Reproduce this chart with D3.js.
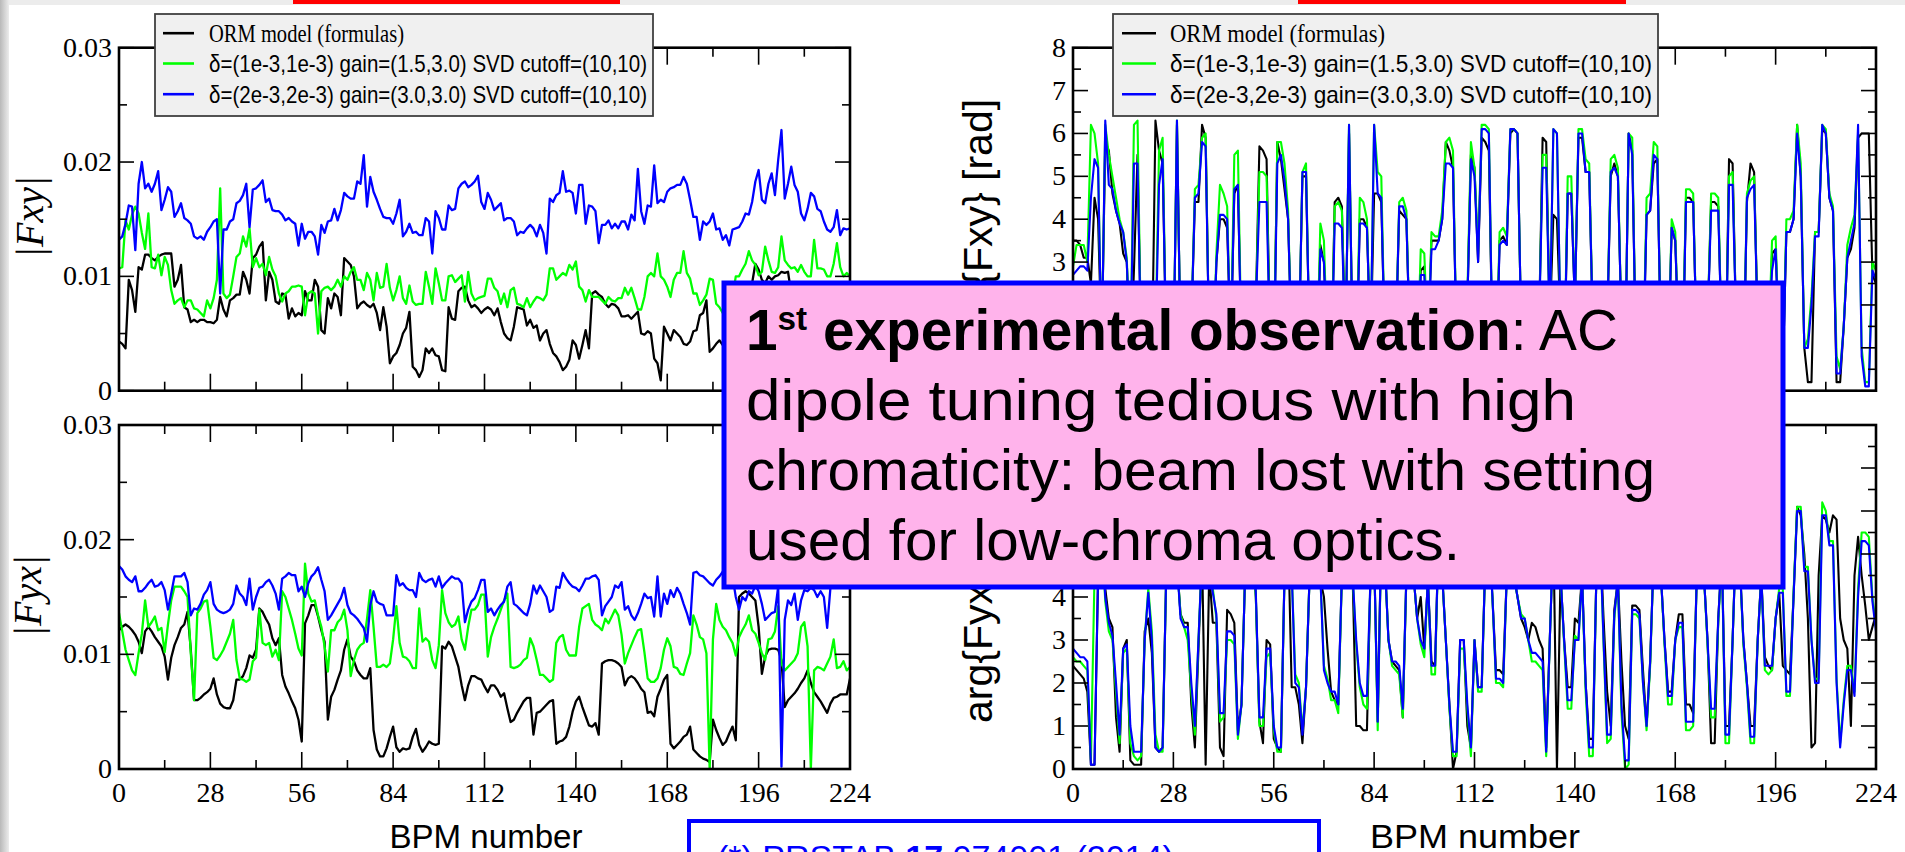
<!DOCTYPE html>
<html><head><meta charset="utf-8">
<script src="https://cdn.jsdelivr.net/npm/d3@7"></script>
<style>html,body{margin:0;padding:0;background:#fff;overflow:hidden}</style>
</head><body>
<svg id="c" width="1905" height="852"></svg>
<script>
// ---------------- DATA ----------------
const bpm = d3.range(0, 225);
const xTickValues = [0, 28, 56, 84, 112, 140, 168, 196, 224];
const xMinorTicks = [14, 42, 70, 98, 126, 154, 182, 210];
const fTickValues = [0, 0.01, 0.02, 0.03];
const fTickLabels = ["0", "0.01", "0.02", "0.03"];
const fMinorTicks = [0.005, 0.015, 0.025];
const phTickValues = [0, 1, 2, 3, 4, 5, 6, 7, 8];
const phTickLabels = ["0", "1", "2", "3", "4", "5", "6", "7", "8"];
const phMinorTicks = [0.5, 1.5, 2.5, 3.5, 4.5, 5.5, 6.5, 7.5];
const seriesNames = ["ORM model (formulas)", "δ=(1e-3,1e-3) gain=(1.5,3.0) SVD cutoff=(10,10)", "δ=(2e-3,2e-3) gain=(3.0,3.0) SVD cutoff=(10,10)"];
const seriesColors = ["#000000", "#00ff00", "#0000ff"];
const noteLines = ["dipole tuning tedious with high", "chromaticity: beam lost with setting", "used for low-chroma optics."];

// |Fxy|
const fxyORM = [0.0043,0.0041,0.0037,0.0097,0.0088,0.0069,0.0108,0.0106,0.0119,0.0119,
0.0116,0.0114,0.0117,0.0119,0.0120,0.0120,0.0120,0.0091,0.0097,0.0110,
0.0073,0.0071,0.0060,0.0062,0.0060,0.0062,0.0062,0.0060,0.0060,0.0059,
0.0062,0.0082,0.0071,0.0065,0.0079,0.0081,0.0084,0.0084,0.0104,0.0097,
0.0085,0.0116,0.0119,0.0126,0.0130,0.0079,0.0104,0.0097,0.0078,0.0076,
0.0085,0.0084,0.0063,0.0072,0.0065,0.0068,0.0066,0.0087,0.0079,0.0079,
0.0097,0.0091,0.0053,0.0050,0.0081,0.0072,0.0085,0.0082,0.0066,0.0116,
0.0113,0.0110,0.0100,0.0072,0.0076,0.0078,0.0075,0.0073,0.0076,0.0068,
0.0053,0.0073,0.0056,0.0024,0.0030,0.0033,0.0040,0.0050,0.0055,0.0069,
0.0021,0.0018,0.0012,0.0018,0.0037,0.0033,0.0037,0.0031,0.0030,0.0018,
0.0017,0.0073,0.0063,0.0062,0.0087,0.0090,0.0091,0.0079,0.0073,0.0075,
0.0072,0.0068,0.0071,0.0073,0.0071,0.0066,0.0072,0.0060,0.0050,0.0046,
0.0044,0.0056,0.0073,0.0072,0.0071,0.0057,0.0062,0.0055,0.0057,0.0044,
0.0050,0.0053,0.0041,0.0033,0.0030,0.0025,0.0018,0.0021,0.0027,0.0044,
0.0040,0.0028,0.0040,0.0053,0.0037,0.0085,0.0087,0.0084,0.0082,0.0076,
0.0073,0.0076,0.0075,0.0072,0.0065,0.0065,0.0066,0.0063,0.0066,0.0069,
0.0050,0.0049,0.0052,0.0050,0.0028,0.0024,0.0009,0.0056,0.0050,0.0044,
0.0053,0.0050,0.0047,0.0041,0.0040,0.0043,0.0052,0.0053,0.0066,0.0068,
0.0079,0.0034,0.0037,0.0041,0.0044,0.0040,0.0045,0.0050,0.0062,0.0070,
0.0065,0.0075,0.0080,0.0085,0.0094,0.0111,0.0106,0.0097,0.0094,0.0100,
0.0097,0.0100,0.0101,0.0104,0.0103,0.0104,0.0085,0.0078,0.0070,0.0065,
0.0060,0.0058,0.0065,0.0072,0.0068,0.0060,0.0055,0.0062,0.0070,0.0075,
0.0071,0.0066,0.0060,0.0064,0.0068];
const fxyD1 = [0.0107,0.0108,0.0149,0.0141,0.0154,0.0161,0.0155,0.0138,0.0124,0.0155,
0.0108,0.0107,0.0119,0.0101,0.0117,0.0110,0.0088,0.0076,0.0079,0.0081,
0.0073,0.0079,0.0079,0.0072,0.0071,0.0068,0.0065,0.0079,0.0072,0.0081,
0.0097,0.0177,0.0085,0.0081,0.0084,0.0100,0.0117,0.0120,0.0135,0.0126,
0.0142,0.0108,0.0116,0.0108,0.0111,0.0101,0.0117,0.0106,0.0100,0.0085,
0.0078,0.0085,0.0087,0.0091,0.0091,0.0092,0.0091,0.0066,0.0085,0.0087,
0.0085,0.0050,0.0087,0.0090,0.0091,0.0088,0.0091,0.0097,0.0091,0.0100,
0.0097,0.0104,0.0108,0.0097,0.0097,0.0088,0.0103,0.0097,0.0079,0.0103,
0.0090,0.0091,0.0111,0.0090,0.0079,0.0088,0.0100,0.0081,0.0076,0.0092,
0.0078,0.0075,0.0076,0.0076,0.0104,0.0091,0.0076,0.0107,0.0094,0.0079,
0.0079,0.0100,0.0101,0.0095,0.0098,0.0101,0.0078,0.0104,0.0085,0.0079,
0.0081,0.0082,0.0083,0.0098,0.0098,0.0090,0.0087,0.0076,0.0085,0.0073,
0.0088,0.0090,0.0076,0.0075,0.0073,0.0081,0.0073,0.0078,0.0082,0.0081,
0.0079,0.0084,0.0107,0.0107,0.0097,0.0100,0.0103,0.0101,0.0110,0.0106,
0.0113,0.0091,0.0088,0.0078,0.0088,0.0082,0.0082,0.0082,0.0079,0.0076,
0.0082,0.0079,0.0078,0.0081,0.0081,0.0090,0.0084,0.0090,0.0081,0.0071,
0.0071,0.0082,0.0100,0.0103,0.0100,0.0120,0.0100,0.0097,0.0091,0.0082,
0.0097,0.0103,0.0103,0.0122,0.0103,0.0098,0.0085,0.0085,0.0075,0.0079,
0.0084,0.0098,0.0097,0.0076,0.0073,0.0068,0.0070,0.0075,0.0082,0.0100,
0.0100,0.0106,0.0111,0.0122,0.0114,0.0110,0.0101,0.0104,0.0126,0.0114,
0.0104,0.0103,0.0108,0.0135,0.0114,0.0110,0.0107,0.0108,0.0104,0.0110,
0.0104,0.0100,0.0100,0.0132,0.0107,0.0107,0.0106,0.0100,0.0100,0.0111,
0.0129,0.0108,0.0100,0.0103,0.0100];
const fxyD2 = [0.0132,0.0135,0.0146,0.0162,0.0161,0.0123,0.0181,0.0200,0.0177,0.0181,
0.0174,0.0181,0.0192,0.0158,0.0167,0.0178,0.0174,0.0152,0.0157,0.0164,
0.0151,0.0149,0.0146,0.0135,0.0133,0.0135,0.0132,0.0139,0.0143,0.0148,
0.0150,0.0085,0.0141,0.0141,0.0148,0.0150,0.0164,0.0166,0.0171,0.0181,
0.0143,0.0176,0.0177,0.0180,0.0184,0.0165,0.0168,0.0158,0.0157,0.0157,
0.0154,0.0149,0.0151,0.0148,0.0146,0.0127,0.0146,0.0133,0.0139,0.0139,
0.0135,0.0119,0.0145,0.0138,0.0148,0.0149,0.0159,0.0149,0.0158,0.0173,
0.0170,0.0168,0.0168,0.0183,0.0181,0.0206,0.0161,0.0187,0.0174,0.0167,
0.0159,0.0152,0.0151,0.0151,0.0146,0.0155,0.0167,0.0135,0.0139,0.0146,
0.0138,0.0139,0.0136,0.0136,0.0151,0.0148,0.0120,0.0157,0.0151,0.0141,
0.0141,0.0162,0.0158,0.0159,0.0177,0.0181,0.0183,0.0178,0.0180,0.0183,
0.0188,0.0165,0.0159,0.0173,0.0167,0.0158,0.0161,0.0164,0.0149,0.0151,
0.0151,0.0148,0.0136,0.0139,0.0138,0.0142,0.0145,0.0142,0.0135,0.0145,
0.0138,0.0120,0.0168,0.0165,0.0171,0.0173,0.0192,0.0174,0.0175,0.0173,
0.0155,0.0180,0.0180,0.0146,0.0162,0.0161,0.0157,0.0129,0.0145,0.0145,
0.0149,0.0142,0.0146,0.0142,0.0148,0.0148,0.0141,0.0154,0.0149,0.0194,
0.0157,0.0146,0.0162,0.0161,0.0197,0.0164,0.0167,0.0165,0.0174,0.0177,
0.0178,0.0180,0.0180,0.0187,0.0181,0.0167,0.0152,0.0152,0.0132,0.0148,
0.0145,0.0148,0.0155,0.0141,0.0142,0.0132,0.0136,0.0127,0.0141,0.0142,
0.0143,0.0148,0.0155,0.0154,0.0165,0.0183,0.0193,0.0167,0.0164,0.0181,
0.0190,0.0171,0.0202,0.0228,0.0168,0.0181,0.0196,0.0180,0.0174,0.0155,
0.0149,0.0159,0.0173,0.0170,0.0159,0.0157,0.0148,0.0141,0.0139,0.0143,
0.0158,0.0136,0.0142,0.0141,0.0142];

// |Fyx|
const fyxORM = [0.0121,0.0124,0.0126,0.0124,0.0121,0.0117,0.0111,0.0101,0.0120,0.0124,
0.0120,0.0115,0.0111,0.0107,0.0098,0.0078,0.0097,0.0108,0.0115,0.0123,
0.0126,0.0137,0.0104,0.0060,0.0060,0.0062,0.0065,0.0067,0.0070,0.0079,
0.0065,0.0057,0.0054,0.0053,0.0053,0.0060,0.0078,0.0078,0.0081,0.0088,
0.0099,0.0097,0.0104,0.0140,0.0137,0.0131,0.0126,0.0114,0.0108,0.0114,
0.0082,0.0072,0.0066,0.0059,0.0053,0.0043,0.0024,0.0127,0.0134,0.0143,
0.0143,0.0133,0.0121,0.0111,0.0043,0.0063,0.0069,0.0078,0.0086,0.0104,
0.0113,0.0098,0.0094,0.0086,0.0082,0.0079,0.0079,0.0088,0.0034,0.0017,
0.0011,0.0011,0.0018,0.0028,0.0037,0.0019,0.0015,0.0018,0.0017,0.0018,
0.0028,0.0035,0.0021,0.0015,0.0019,0.0024,0.0022,0.0021,0.0022,0.0107,
0.0105,0.0111,0.0107,0.0098,0.0089,0.0073,0.0060,0.0073,0.0081,0.0081,
0.0079,0.0078,0.0072,0.0067,0.0073,0.0073,0.0069,0.0063,0.0066,0.0053,
0.0041,0.0043,0.0049,0.0054,0.0059,0.0062,0.0062,0.0030,0.0049,0.0050,
0.0053,0.0056,0.0059,0.0060,0.0022,0.0024,0.0025,0.0028,0.0037,0.0050,
0.0059,0.0063,0.0054,0.0046,0.0038,0.0037,0.0040,0.0030,0.0092,0.0094,
0.0095,0.0095,0.0094,0.0092,0.0089,0.0073,0.0079,0.0081,0.0079,0.0075,
0.0070,0.0067,0.0049,0.0050,0.0046,0.0063,0.0070,0.0078,0.0082,0.0022,
0.0018,0.0021,0.0024,0.0028,0.0030,0.0037,0.0017,0.0014,0.0011,0.0009,
0.0008,0.0006,0.0043,0.0034,0.0027,0.0021,0.0024,0.0031,0.0037,0.0025,
0.0150,0.0153,0.0155,0.0153,0.0150,0.0147,0.0124,0.0083,0.0098,0.0104,
0.0105,0.0105,0.0104,0.0095,0.0054,0.0060,0.0063,0.0066,0.0070,0.0075,
0.0079,0.0086,0.0075,0.0067,0.0063,0.0059,0.0054,0.0049,0.0057,0.0062,
0.0063,0.0065,0.0065,0.0065,0.0079];
const fyxD1 = [0.0136,0.0120,0.0104,0.0095,0.0086,0.0082,0.0101,0.0118,0.0147,0.0124,
0.0128,0.0133,0.0121,0.0123,0.0102,0.0126,0.0147,0.0159,0.0159,0.0159,
0.0155,0.0150,0.0101,0.0060,0.0136,0.0140,0.0146,0.0147,0.0124,0.0097,
0.0095,0.0099,0.0104,0.0111,0.0118,0.0130,0.0095,0.0079,0.0078,0.0076,
0.0078,0.0094,0.0097,0.0139,0.0110,0.0108,0.0110,0.0098,0.0104,0.0095,
0.0155,0.0150,0.0140,0.0130,0.0118,0.0105,0.0099,0.0179,0.0153,0.0146,
0.0147,0.0134,0.0124,0.0107,0.0085,0.0121,0.0121,0.0128,0.0131,0.0139,
0.0121,0.0081,0.0095,0.0104,0.0108,0.0110,0.0131,0.0156,0.0124,0.0089,
0.0089,0.0091,0.0089,0.0092,0.0113,0.0142,0.0110,0.0098,0.0097,0.0094,
0.0088,0.0088,0.0140,0.0111,0.0114,0.0111,0.0095,0.0088,0.0108,0.0156,
0.0136,0.0128,0.0124,0.0126,0.0133,0.0113,0.0104,0.0124,0.0139,0.0139,
0.0143,0.0152,0.0152,0.0098,0.0115,0.0124,0.0131,0.0139,0.0147,0.0153,
0.0089,0.0088,0.0089,0.0091,0.0095,0.0097,0.0114,0.0107,0.0095,0.0082,
0.0082,0.0079,0.0076,0.0078,0.0110,0.0115,0.0117,0.0104,0.0099,0.0099,
0.0099,0.0124,0.0140,0.0142,0.0144,0.0130,0.0126,0.0124,0.0121,0.0131,
0.0127,0.0133,0.0139,0.0134,0.0117,0.0092,0.0101,0.0108,0.0115,0.0121,
0.0122,0.0102,0.0079,0.0076,0.0076,0.0079,0.0088,0.0104,0.0114,0.0107,
0.0089,0.0088,0.0083,0.0082,0.0092,0.0101,0.0134,0.0126,0.0115,0.0113,
0.0101,0.0000,0.0113,0.0144,0.0130,0.0124,0.0121,0.0115,0.0110,0.0099,
0.0115,0.0121,0.0126,0.0134,0.0121,0.0118,0.0110,0.0101,0.0095,0.0113,
0.0114,0.0120,0.0142,0.0092,0.0086,0.0089,0.0092,0.0095,0.0101,0.0124,
0.0128,0.0107,0.0000,0.0086,0.0089,0.0088,0.0086,0.0092,0.0098,0.0113,
0.0088,0.0089,0.0094,0.0086,0.0089];
const fyxD2 = [0.0177,0.0174,0.0168,0.0165,0.0163,0.0168,0.0155,0.0155,0.0158,0.0162,
0.0165,0.0159,0.0160,0.0163,0.0156,0.0139,0.0153,0.0168,0.0168,0.0168,
0.0171,0.0163,0.0134,0.0140,0.0139,0.0144,0.0152,0.0156,0.0163,0.0144,
0.0139,0.0137,0.0136,0.0137,0.0139,0.0144,0.0160,0.0153,0.0150,0.0143,
0.0166,0.0139,0.0150,0.0158,0.0159,0.0163,0.0165,0.0160,0.0153,0.0139,
0.0166,0.0168,0.0171,0.0169,0.0169,0.0155,0.0159,0.0150,0.0162,0.0168,
0.0171,0.0176,0.0165,0.0155,0.0130,0.0134,0.0139,0.0144,0.0149,0.0158,
0.0143,0.0136,0.0134,0.0131,0.0127,0.0123,0.0111,0.0143,0.0155,0.0146,
0.0144,0.0143,0.0134,0.0134,0.0134,0.0169,0.0160,0.0162,0.0158,0.0156,
0.0156,0.0150,0.0171,0.0165,0.0163,0.0165,0.0166,0.0159,0.0168,0.0158,
0.0162,0.0165,0.0168,0.0166,0.0166,0.0162,0.0128,0.0139,0.0146,0.0149,
0.0156,0.0165,0.0165,0.0137,0.0140,0.0134,0.0139,0.0143,0.0146,0.0159,
0.0163,0.0144,0.0142,0.0139,0.0136,0.0134,0.0144,0.0160,0.0153,0.0160,
0.0155,0.0150,0.0137,0.0139,0.0159,0.0158,0.0171,0.0166,0.0162,0.0159,
0.0158,0.0155,0.0160,0.0166,0.0166,0.0168,0.0169,0.0165,0.0134,0.0142,
0.0146,0.0150,0.0160,0.0158,0.0163,0.0139,0.0142,0.0134,0.0130,0.0136,
0.0144,0.0153,0.0149,0.0150,0.0133,0.0168,0.0133,0.0153,0.0144,0.0156,
0.0150,0.0158,0.0153,0.0144,0.0136,0.0126,0.0171,0.0172,0.0169,0.0168,
0.0165,0.0162,0.0160,0.0165,0.0168,0.0172,0.0168,0.0165,0.0168,0.0150,
0.0139,0.0150,0.0147,0.0155,0.0153,0.0160,0.0155,0.0144,0.0130,0.0133,
0.0136,0.0137,0.0159,0.0002,0.0130,0.0147,0.0143,0.0153,0.0130,0.0147,
0.0156,0.0155,0.0158,0.0156,0.0150,0.0155,0.0150,0.0123,0.0158,0.0162,
0.0165,0.0168,0.0164,0.0166,0.0170];

// arg{Fxy} [rad]
const argFxyORM = [3.5,3.5,3.4,3.1,3.1,2.5,4.5,4.0,1.0,5.8,
5.6,4.6,4.2,3.9,3.2,3.0,0.5,2.8,5.5,1.0,
0.3,0.5,0.5,6.3,5.6,5.3,1.0,0.3,0.5,6.2,
1.0,0.3,0.3,1.5,4.4,4.4,6.2,5.9,1.0,0.4,
3.0,4.0,4.0,3.8,1.0,4.6,4.8,1.0,0.3,0.3,
0.5,2.0,5.7,5.6,5.4,1.0,0.5,5.8,5.4,4.7,
4.0,1.0,0.3,1.0,5.0,5.0,1.0,0.3,0.5,3.4,
3.0,0.8,0.3,4.4,4.5,4.3,1.0,6.0,1.0,0.4,
4.0,4.0,3.8,1.0,4.6,4.6,4.4,1.0,0.4,0.3,
1.0,4.2,4.1,4.0,1.0,0.3,0.5,2.8,2.9,1.0,
3.5,3.5,3.5,4.0,5.8,5.6,5.2,1.0,0.4,0.3,
2.0,5.5,5.2,3.0,5.9,5.8,5.6,1.0,0.3,3.5,
3.6,3.4,6.0,6.1,6.0,1.5,0.3,0.2,0.4,0.8,
1.5,5.9,5.8,1.5,4.1,4.0,1.5,0.4,4.6,4.6,
2.0,5.9,5.9,5.1,5.1,1.5,0.4,0.3,0.6,1.5,
5.0,5.3,5.0,1.5,0.4,6.0,5.6,1.0,0.3,0.5,
4.1,4.2,5.3,5.4,1.0,0.3,0.5,3.8,3.5,1.0,
0.4,4.5,4.5,4.4,1.0,0.3,0.5,1.5,4.4,4.4,
4.3,1.0,0.4,5.4,5.3,1.5,0.4,0.3,4.4,5.3,
5.1,1.5,0.4,0.3,1.0,3.2,3.3,1.0,0.4,3.7,
3.7,4.0,6.2,5.0,1.0,0.2,0.2,3.7,3.7,6.1,
6.0,4.5,4.2,0.2,0.2,1.5,3.1,3.3,3.8,5.9,
6.0,6.0,6.0,2.7,2.5];
const argFxyD1 = [2.9,3.4,3.4,3.4,3.0,6.2,6.0,5.3,0.8,6.2,
5.5,5.0,4.5,4.0,3.7,3.1,0.8,6.2,6.3,1.0,
0.3,0.3,0.5,1.2,5.6,5.9,1.0,0.3,0.5,6.3,
1.0,0.3,0.3,1.5,4.7,4.8,5.9,6.0,1.0,0.4,
3.2,4.8,4.6,4.3,1.0,5.5,5.6,1.0,0.3,0.3,
0.5,2.0,5.1,5.1,5.0,1.0,0.5,5.8,5.8,5.3,
4.2,1.0,0.3,1.0,5.1,5.3,1.0,0.3,0.5,3.9,
3.5,0.8,0.3,4.3,4.4,4.2,1.0,6.2,1.0,0.4,
4.5,4.4,4.0,1.0,6.2,5.1,5.0,1.0,0.4,0.3,
1.0,4.4,4.5,4.2,1.0,0.3,0.5,3.3,3.2,1.0,
3.7,3.6,3.6,4.2,5.8,5.9,5.6,1.0,0.4,0.3,
2.2,5.8,5.2,3.2,6.2,6.2,6.1,1.0,0.3,3.7,
3.8,3.6,6.1,6.1,6.0,1.5,0.3,0.2,0.4,0.8,
1.5,5.5,5.5,1.5,6.1,6.0,1.5,0.4,5.0,5.0,
2.0,6.1,6.1,5.4,5.3,1.5,0.4,0.3,0.6,1.5,
5.4,5.5,5.2,1.5,0.4,6.0,5.9,1.0,0.3,0.5,
4.5,4.6,5.8,5.7,1.0,0.3,0.5,4.0,3.7,1.0,
0.4,4.7,4.7,4.6,1.0,0.3,0.5,1.5,4.6,4.6,
4.5,1.0,0.4,5.0,5.1,1.5,0.4,0.3,4.6,4.9,
5.0,1.5,0.4,0.3,1.0,3.5,3.6,1.0,0.4,4.0,
4.0,4.2,6.2,5.3,1.0,1.2,2.2,3.7,3.7,6.2,
6.1,4.6,4.3,0.8,0.5,1.5,3.4,3.8,4.1,6.0,
1.0,0.2,0.2,3.0,2.8];
const argFxyD2 = [2.7,2.8,2.9,2.9,2.8,4.5,5.4,5.2,0.8,6.3,
4.8,4.7,4.2,3.9,3.7,3.0,0.8,5.3,5.3,1.0,
0.3,0.3,0.5,1.0,4.8,5.4,1.0,0.3,0.5,6.3,
1.0,0.3,0.3,1.5,4.5,4.6,5.8,5.7,1.0,0.4,
3.0,4.1,4.1,4.0,1.0,4.7,4.8,1.0,0.3,0.3,
0.5,2.0,4.4,4.4,4.4,1.0,0.5,5.3,5.5,4.9,
4.0,1.0,0.3,1.0,5.1,5.1,1.0,0.3,0.5,3.3,
3.0,0.8,0.3,3.9,3.9,3.8,1.0,6.2,1.0,0.4,
3.9,3.9,3.8,1.0,6.2,4.6,4.5,1.0,0.4,0.3,
1.0,4.3,4.3,4.0,1.0,0.3,0.5,2.7,2.7,1.0,
3.3,3.3,3.5,4.0,5.3,5.3,5.2,1.0,0.4,0.3,
2.0,5.4,5.0,3.0,6.1,6.1,6.0,1.0,0.3,3.4,
3.5,3.4,6.1,6.1,6.0,1.5,0.3,0.2,0.4,0.8,
1.5,5.2,5.2,1.5,6.1,6.0,1.5,0.4,4.6,4.6,
2.0,6.0,6.0,5.1,5.1,1.5,0.4,0.3,0.6,1.5,
5.1,5.2,5.0,1.5,0.4,6.0,5.5,1.0,0.3,0.5,
4.1,4.2,5.5,5.4,1.0,0.3,0.5,3.8,3.5,1.0,
0.4,4.4,4.4,4.4,1.0,0.3,0.5,1.5,4.2,4.2,
4.2,1.0,0.4,4.8,4.8,1.5,0.4,0.3,4.5,4.7,
4.8,1.5,0.4,0.3,1.0,2.8,3.3,1.0,0.4,3.7,
3.7,4.0,6.0,5.0,1.0,1.0,2.0,3.6,3.6,6.2,
6.0,4.5,4.2,0.4,0.4,1.5,3.1,3.5,3.9,6.2,
0.8,0.1,0.1,2.8,2.6];

// arg{Fyx} [rad]
const argFyxORM = [2.4,2.3,2.2,2.1,1.8,0.1,0.1,4.5,5.5,4.2,
3.5,3.3,1.2,0.4,2.8,3.0,0.2,0.1,0.1,0.1,
3.2,3.5,2.7,0.5,0.4,0.5,4.5,4.6,4.4,4.8,
3.6,3.4,3.4,1.5,0.5,2.8,5.0,0.1,4.6,3.4,
3.4,0.5,0.3,3.7,3.6,3.4,0.9,1.5,4.5,5.0,
5.5,4.0,1.1,0.6,3.0,2.9,0.7,0.5,0.4,4.5,
5.5,1.9,1.9,1.5,0.6,1.9,4.5,5.5,5.0,4.4,
4.0,2.8,1.8,1.6,1.5,4.5,5.5,5.0,4.5,1.0,
1.0,0.9,0.9,4.5,5.0,1.1,5.5,4.8,3.0,2.5,
2.4,2.3,1.2,4.5,5.5,4.5,3.5,4.0,2.8,4.4,
2.5,2.4,5.5,4.5,3.0,1.5,0.0,0.4,3.0,3.0,
1.0,0.5,3.0,1.9,1.9,4.8,5.5,4.0,2.3,2.3,
2.2,4.5,5.5,4.5,4.0,3.5,3.3,3.0,3.4,3.3,
3.0,2.8,0.5,3.0,5.5,0.0,4.5,3.0,1.9,1.9,
3.5,3.4,4.5,2.0,0.7,0.7,4.5,5.5,3.5,1.8,
1.0,3.7,4.4,2.5,1.0,0.7,3.8,3.8,3.7,2.3,
1.0,2.5,5.0,5.5,4.5,3.0,1.8,1.8,3.0,3.6,
3.6,1.5,1.5,1.3,4.5,5.5,4.5,3.0,0.6,0.6,
3.5,5.0,1.0,1.0,3.0,5.5,4.8,3.0,2.0,1.0,
1.0,3.0,4.5,2.6,2.4,2.3,3.5,4.1,2.4,2.3,
2.2,4.0,6.1,5.9,5.0,3.5,0.5,0.6,4.5,5.9,
5.8,5.5,5.9,5.8,3.5,3.0,2.8,1.0,4.5,5.4,
4.5,3.8,3.0,3.3,3.6];
const argFyxD1 = [2.6,2.5,2.5,2.4,2.3,0.2,4.5,5.0,5.5,3.9,
3.2,3.0,1.8,0.6,2.7,2.8,0.6,0.3,0.2,0.3,
3.0,4.2,3.2,0.8,0.4,0.4,4.5,4.7,4.5,4.8,
3.6,3.3,3.0,1.8,0.8,3.0,5.0,5.5,4.6,4.2,
3.5,1.1,1.2,3.0,3.0,2.9,0.7,1.5,4.5,5.0,
5.5,4.0,1.0,1.0,2.6,2.7,0.9,0.4,0.4,4.5,
5.5,4.6,2.2,2.0,0.9,1.9,4.5,5.5,5.0,4.5,
2.4,2.1,1.6,1.6,1.3,4.5,5.5,5.0,4.5,2.9,
1.9,1.5,1.4,4.5,5.0,0.9,5.5,4.8,3.0,2.4,
2.3,2.2,1.2,4.5,5.5,4.5,3.5,2.9,2.6,4.4,
2.2,2.2,5.5,4.5,3.0,1.4,0.3,0.3,2.8,2.8,
1.4,0.3,3.0,1.8,1.8,4.8,5.5,4.0,2.0,2.0,
1.9,4.5,5.5,4.5,4.0,3.6,3.5,3.0,2.5,2.5,
2.4,2.3,0.3,3.0,5.5,5.0,4.5,2.9,1.4,1.4,
3.1,3.0,4.5,1.8,0.3,0.3,4.5,5.5,2.9,0.6,
0.7,3.5,4.4,1.3,0.0,0.1,3.6,3.6,3.5,2.0,
0.9,2.4,5.0,5.5,4.5,2.9,1.5,1.5,3.0,3.3,
3.3,0.9,0.9,1.0,4.5,5.5,4.5,2.9,1.2,1.2,
3.4,5.0,0.6,0.6,3.0,5.5,4.8,2.9,1.9,0.6,
0.6,3.0,4.5,2.3,2.2,2.3,3.5,4.2,4.2,1.7,
1.7,4.1,6.1,6.1,4.7,4.7,3.0,2.1,2.1,6.2,
6.0,5.3,5.3,2.1,0.6,1.6,2.4,2.4,1.8,4.2,
5.5,5.5,5.4,4.0,3.3];
const argFyxD2 = [2.8,2.7,2.6,2.6,2.5,0.1,0.1,4.5,5.5,4.0,
3.4,3.1,2.0,0.8,2.8,2.9,1.0,0.4,0.4,0.4,
3.0,4.1,3.0,0.5,0.4,0.5,4.5,4.6,4.4,4.8,
3.5,3.3,3.3,2.0,1.0,3.0,5.0,5.5,4.6,4.1,
3.6,1.3,1.3,3.2,3.2,3.1,0.8,1.5,4.5,5.0,
5.5,4.1,1.2,1.2,2.8,2.8,1.0,0.5,0.5,4.5,
5.5,4.6,2.0,1.9,0.8,1.9,4.5,5.5,5.0,4.5,
2.3,2.0,1.8,1.8,1.5,4.5,5.5,5.0,4.5,3.0,
2.0,1.7,1.7,4.5,5.0,1.1,5.5,4.8,3.0,2.5,
2.5,2.4,1.4,4.5,5.5,4.5,3.5,3.0,2.8,4.4,
2.4,2.4,5.5,4.5,3.0,1.5,0.4,0.4,3.0,3.0,
1.5,0.5,3.0,1.9,1.9,4.8,5.5,4.0,2.1,2.1,
2.0,4.5,5.5,4.5,4.0,3.5,3.5,3.0,2.7,2.7,
2.6,2.5,0.4,3.0,5.5,5.0,4.5,3.0,1.6,1.6,
3.0,3.0,4.5,2.0,0.5,0.5,4.5,5.5,3.0,0.8,
0.8,3.6,4.4,1.5,0.2,0.2,3.7,3.7,3.6,2.0,
1.0,2.5,5.0,5.5,4.5,3.0,1.7,1.7,3.0,3.4,
3.4,1.1,1.1,1.1,4.5,5.5,4.5,3.0,1.4,1.4,
3.5,5.0,0.8,0.8,3.0,5.5,4.8,3.0,2.0,0.75,
0.75,3.0,4.5,2.4,2.4,2.4,3.5,4.1,4.1,1.8,
1.8,4.0,6.0,6.0,4.6,4.6,3.0,2.0,2.0,5.9,
5.9,5.2,5.2,2.0,0.5,1.5,2.3,2.3,1.7,4.0,
5.3,5.3,5.2,3.9,3.2];

// ---------------- DRAWING ----------------
const svg = d3.select("#c");
const defs = svg.append("defs");
const g0 = defs.append("linearGradient").attr("id","lg").attr("x1","0").attr("x2","1").attr("y1","0").attr("y2","0");
g0.append("stop").attr("offset","0").attr("stop-color","#b9b9b9");
g0.append("stop").attr("offset","1").attr("stop-color","#ececec");

svg.append("rect").attr("x",0).attr("y",0).attr("width",1905).attr("height",852).attr("fill","#ffffff");
svg.append("rect").attr("x",0).attr("y",0).attr("width",1905).attr("height",5).attr("fill","#ececec");
svg.append("rect").attr("x",0).attr("y",0).attr("width",9).attr("height",852).attr("fill","url(#lg)");
svg.append("rect").attr("x",293).attr("y",0).attr("width",327).attr("height",4).attr("fill","#ff0000");
svg.append("rect").attr("x",1298).attr("y",0).attr("width",328).attr("height",4).attr("fill","#ff0000");

const serif = "'Liberation Serif','Times New Roman',serif";
const sans = "'Liberation Sans',Arial,sans-serif";

function panel(id, box, yDomain, yMajor, yLabels, yMinor, series, showX) {
  const x = d3.scaleLinear().domain([0, 224]).range([box.x0, box.x1]);
  const y = d3.scaleLinear().domain(yDomain).range([box.y1, box.y0]);
  const g = svg.append("g");
  defs.append("clipPath").attr("id", "clip" + id).append("rect")
    .attr("x", box.x0).attr("y", box.y0 - 30).attr("width", box.x1 - box.x0).attr("height", box.y1 - box.y0 + 30);
  const line = d3.line().x((d, i) => x(bpm[i])).y(d => y(d));
  const lg = g.append("g").attr("clip-path", "url(#clip" + id + ")");
  series.forEach((s, k) => {
    lg.append("path").datum(s).attr("d", line).attr("fill", "none")
      .attr("stroke", seriesColors[k]).attr("stroke-width", box.lw).attr("stroke-linejoin", "round");
  });
  g.append("rect").attr("x", box.x0).attr("y", box.y0).attr("width", box.x1 - box.x0).attr("height", box.y1 - box.y0)
    .attr("fill", "none").attr("stroke", "#000").attr("stroke-width", 2.6);
  const tk = g.append("g").attr("stroke", "#000").attr("stroke-width", 1.6);
  xTickValues.forEach(v => {
    tk.append("line").attr("x1", x(v)).attr("x2", x(v)).attr("y1", box.y1).attr("y2", box.y1 - 17);
    tk.append("line").attr("x1", x(v)).attr("x2", x(v)).attr("y1", box.y0).attr("y2", box.y0 + 17);
  });
  xMinorTicks.forEach(v => {
    tk.append("line").attr("x1", x(v)).attr("x2", x(v)).attr("y1", box.y1).attr("y2", box.y1 - 9);
    tk.append("line").attr("x1", x(v)).attr("x2", x(v)).attr("y1", box.y0).attr("y2", box.y0 + 9);
  });
  yMajor.forEach(v => {
    tk.append("line").attr("x1", box.x0).attr("x2", box.x0 + 15).attr("y1", y(v)).attr("y2", y(v));
    tk.append("line").attr("x1", box.x1).attr("x2", box.x1 - 15).attr("y1", y(v)).attr("y2", y(v));
  });
  yMinor.forEach(v => {
    tk.append("line").attr("x1", box.x0).attr("x2", box.x0 + 8).attr("y1", y(v)).attr("y2", y(v));
    tk.append("line").attr("x1", box.x1).attr("x2", box.x1 - 8).attr("y1", y(v)).attr("y2", y(v));
  });
  if (showX) {
    xTickValues.forEach(v => {
      g.append("text").attr("x", x(v)).attr("y", box.y1 + 33).attr("text-anchor", "middle")
        .attr("font-family", serif).attr("font-size", 28).text(String(v));
    });
  }
  yMajor.forEach((v, i) => {
    g.append("text").attr("x", box.x0 - 7).attr("y", y(v) + 9).attr("text-anchor", "end")
      .attr("font-family", serif).attr("font-size", 28).text(yLabels[i]);
  });
  return g;
}

const TL = {x0:119, x1:850, y0:47.7, y1:390.7, lw:2.3};
const BL = {x0:119, x1:850, y0:425, y1:769, lw:2.3};
const TR = {x0:1073, x1:1876, y0:47.7, y1:390.7, lw:2.1};
const BR = {x0:1073, x1:1876, y0:425, y1:769, lw:2.1};

panel("tl", TL, [0, 0.03], fTickValues, fTickLabels, fMinorTicks, [fxyORM, fxyD1, fxyD2], false);
panel("bl", BL, [0, 0.03], fTickValues, fTickLabels, fMinorTicks, [fyxORM, fyxD1, fyxD2], true);
panel("tr", TR, [0, 8], phTickValues, phTickLabels, phMinorTicks, [argFxyORM, argFxyD1, argFxyD2], false);
panel("br", BR, [0, 8], phTickValues, phTickLabels, phMinorTicks, [argFyxORM, argFyxD1, argFyxD2], true);

// axis titles
svg.append("text").attr("transform", "translate(43,217) rotate(-90)").attr("text-anchor", "middle")
  .attr("font-family", serif).attr("font-style", "italic").attr("font-size", 40).text("|Fxy|");
svg.append("text").attr("transform", "translate(41,596) rotate(-90)").attr("text-anchor", "middle")
  .attr("font-family", serif).attr("font-style", "italic").attr("font-size", 40).text("|Fyx|");
svg.append("text").attr("transform", "translate(992,345) rotate(-90)").attr("text-anchor", "start")
  .attr("font-family", sans).attr("font-size", 41).text("arg{Fxy}  [rad]");
svg.append("text").attr("transform", "translate(992,723) rotate(-90)").attr("text-anchor", "start")
  .attr("font-family", sans).attr("font-size", 41).text("arg{Fyx}  [rad]");
svg.append("text").attr("x", 486).attr("y", 848).attr("text-anchor", "middle")
  .attr("font-family", sans).attr("font-size", 34).attr("textLength", 193).attr("lengthAdjust", "spacingAndGlyphs").text("BPM number");
svg.append("text").attr("x", 1475).attr("y", 848).attr("text-anchor", "middle")
  .attr("font-family", sans).attr("font-size", 34).attr("textLength", 210).attr("lengthAdjust", "spacingAndGlyphs").text("BPM number");

// legends
function legend(bx, lx0, lx1, tx, widths) {
  svg.append("rect").attr("x", bx.x).attr("y", bx.y).attr("width", bx.w).attr("height", bx.h)
    .attr("fill", "#f0f0f0").attr("stroke", "#404040").attr("stroke-width", 1.8);
  const base = [41.7, 72, 102.7];
  seriesNames.forEach((name, k) => {
    svg.append("line").attr("x1", lx0).attr("x2", lx1).attr("y1", base[k] - 8.5).attr("y2", base[k] - 8.5)
      .attr("stroke", seriesColors[k]).attr("stroke-width", 2.6);
    svg.append("text").attr("x", tx).attr("y", base[k])
      .attr("font-family", k === 0 ? serif : sans).attr("font-size", k === 0 ? 25 : 24)
      .attr("textLength", widths[k]).attr("lengthAdjust", "spacingAndGlyphs").text(name);
  });
}
legend({x:155, y:14, w:498, h:102}, 163, 194, 209, [195, 438, 438]);
legend({x:1113, y:14, w:545, h:102}, 1122, 1156, 1170, [215, 482, 482]);

// pink annotation box
svg.append("rect").attr("x", 724).attr("y", 283).attr("width", 1059).attr("height", 304)
  .attr("fill", "#ffb3eb").attr("stroke", "#0000ff").attr("stroke-width", 5);
const t1 = svg.append("text").attr("x", 746).attr("y", 350).attr("font-family", sans).attr("font-size", 58)
  .attr("textLength", 872).attr("lengthAdjust", "spacingAndGlyphs").attr("fill", "#000");
t1.append("tspan").attr("font-weight", "bold").text("1");
t1.append("tspan").attr("font-weight", "bold").attr("font-size", 34).attr("dy", -20).text("st");
t1.append("tspan").attr("font-weight", "bold").attr("dy", 20).text(" experimental observation");
t1.append("tspan").text(": AC");
const noteWidths = [830, 909, 714];
noteLines.forEach((s, i) => {
  svg.append("text").attr("x", 746).attr("y", 420 + i * 70).attr("font-family", sans).attr("font-size", 58)
    .attr("textLength", noteWidths[i]).attr("lengthAdjust", "spacingAndGlyphs").text(s);
});

// reference box at bottom
svg.append("rect").attr("x", 689).attr("y", 821).attr("width", 630).attr("height", 60)
  .attr("fill", "#ffffff").attr("stroke", "#0000ff").attr("stroke-width", 4);
const rt = svg.append("text").attr("x", 717).attr("y", 869).attr("font-family", sans).attr("font-size", 34).attr("fill", "#0000ff");
rt.append("tspan").text("(*) PRSTAB ");
rt.append("tspan").attr("font-weight", "bold").text("17");
rt.append("tspan").text(" 074001 (2014)");
</script>
</body></html>
